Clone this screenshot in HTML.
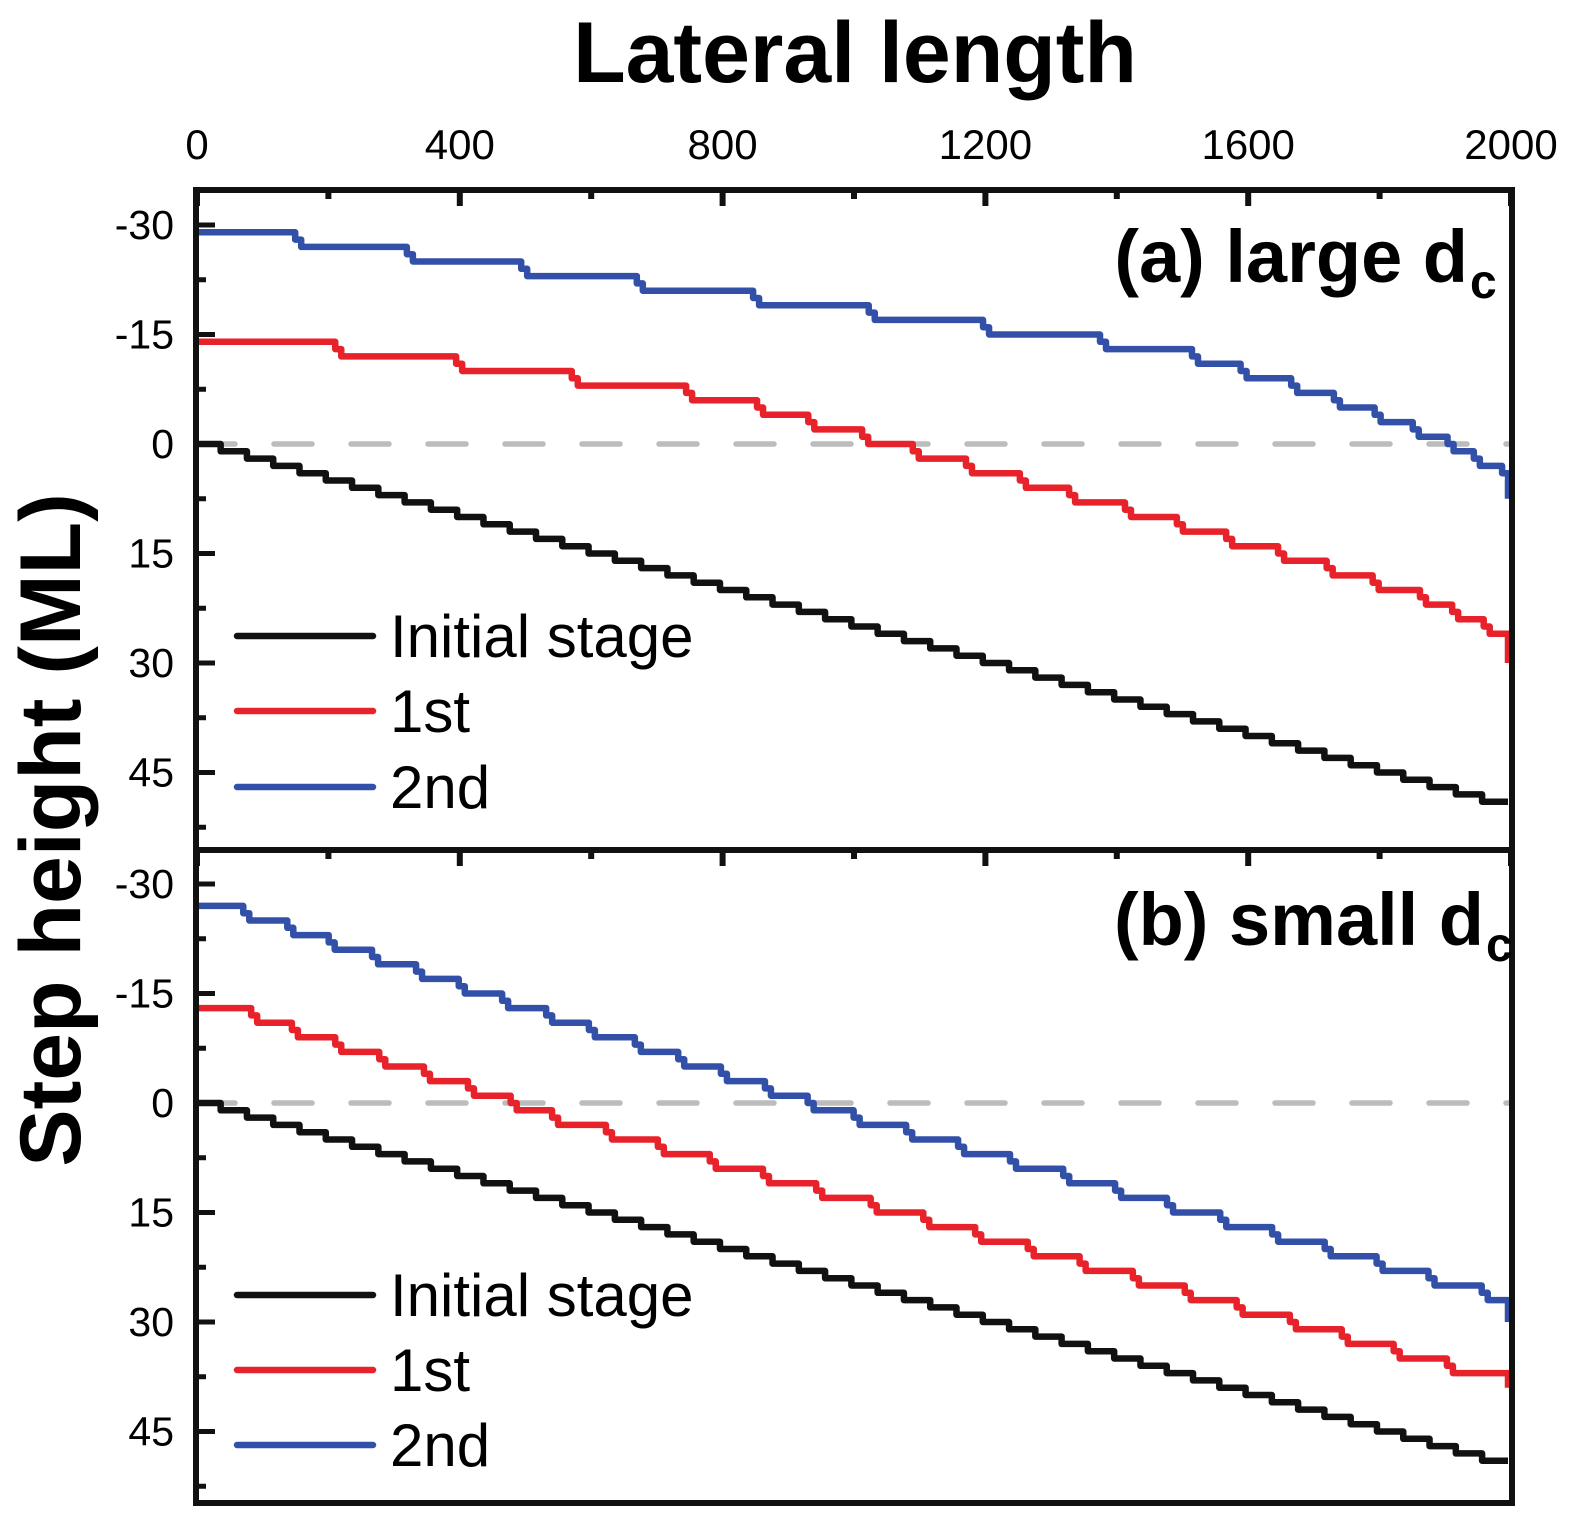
<!DOCTYPE html>
<html><head><meta charset="utf-8"><style>
body{margin:0;background:#fff;}
svg{display:block;font-family:"Liberation Sans",Arial,sans-serif;}
</style></head><body>
<svg id="chart" width="1575" height="1522" viewBox="0 0 1575 1522"></svg>
<script>
// ---- data (x in lateral length units, y in ML) ----
const xTicks = [0, 400, 800, 1200, 1600, 2000];
const yTicks = [-30, -15, 0, 15, 30, 45];
const seriesNames = ["Initial stage", "1st", "2nd"];
// panel (a) large dc
const aInitStart = 0;
const aInitSteps = [36,76,116,156,196,236,276,316,356,396,436,476,516,556,596,636,676,716,756,796,836,876,916,956,996,1036,1076,1116,1156,1196,1236,1276,1316,1356,1396,1436,1476,1516,1556,1596,1636,1676,1716,1756,1796,1836,1876,1916,1956];
const aInitEnd = 49;
const a1stStart = -14;
const a1stSteps = [215,399,575,749,857,935,1017,1094,1175,1257,1332,1417,1496,1571,1650,1724,1794,1866,1915,1963];
const a1stEnd = 30;
const a2ndStart = -29;
const a2ndSteps = [154,324,498,674,851,1027,1201,1379,1519,1593,1670,1735,1797,1855,1908,1948,1991];
const a2ndEnd = 7.5;
// panel (b) small dc
const bInitStart = 0;
const bInitSteps = [36,76,116,156,196,236,276,316,356,396,436,476,516,556,596,636,676,716,756,796,836,876,916,956,996,1036,1076,1116,1156,1196,1236,1276,1316,1356,1396,1436,1476,1516,1556,1596,1636,1676,1716,1756,1796,1836,1876,1916,1956];
const bInitEnd = 49;
const b1stStart = -13;
const b1stSteps = [87,149,215,282,350,417,482,545,627,706,785,866,947,1030,1110,1189,1269,1348,1429,1508,1587,1668,1747,1826,1907];
const b1stEnd = 39;
const b2ndStart = -27;
const b2ndSteps = [75,142,205,271,338,403,469,536,601,671,737,802,869,934,1004,1084,1163,1242,1323,1402,1481,1562,1641,1721,1800,1879,1960];
const b2ndEnd = 30;

const NS = "http://www.w3.org/2000/svg";
const svg = document.getElementById("chart");
function mk(tag, attrs, parent) {
  const e = document.createElementNS(NS, tag);
  for (const k in attrs) e.setAttribute(k, attrs[k]);
  (parent || svg).appendChild(e);
  return e;
}
const X0 = 197, X1 = 1511;
function xs(v) { return X0 + (X1 - X0) * v / 2000; }
const panels = [
  {top: 190, bot: 850, zero: 444, name: "a", label: "(a) large d", lx: 1468, ly: 282,
   series: [[aInitStart, aInitSteps, 1, aInitEnd, "#111111"], [a1stStart, a1stSteps, 2, a1stEnd, "#e8222a"], [a2ndStart, a2ndSteps, 2, a2ndEnd, "#3350a8"]],
   legY: [636, 711, 787]},
  {top: 850, bot: 1503, zero: 1103, name: "b", label: "(b) small d", lx: 1484, ly: 945,
   series: [[bInitStart, bInitSteps, 1, bInitEnd, "#111111"], [b1stStart, b1stSteps, 2, b1stEnd, "#e8222a"], [b2ndStart, b2ndSteps, 2, b2ndEnd, "#3350a8"]],
   legY: [1295, 1370, 1445]}
];
const S = 7.3;
const seriesKeys = ["initial-stage", "1st", "2nd"];

// title
let t = mk("text", {x: 855, y: 82, "text-anchor": "middle", "font-size": 86, "font-weight": "bold"});
t.textContent = "Lateral length";


t = mk("text", {x: 0, y: 0, "text-anchor": "middle", "font-size": 86, "font-weight": "bold", transform: "translate(80,830) rotate(-90)"});
t.textContent = "Step height (ML)";



// x tick labels
xTicks.forEach(v => {
  const e = mk("text", {x: xs(v), y: 159, "text-anchor": "middle", "font-size": 42});
  e.textContent = v;
  
  
});

panels.forEach(p => {
  const g = mk("g", {});
  
  
  const ys = v => p.zero + v * S;
  const z = mk("line", {x1: X0, x2: X1, y1: ys(0), y2: ys(0), stroke: "#bcbcbc", "stroke-width": 5.5, "stroke-dasharray": "38 39", "stroke-linecap": "round"}, g);
  
  
  p.series.forEach((s, i) => {
    const [start, steps, dh, end, col] = s;
    let v = start;
    let d = "M" + xs(0) + "," + ys(v);
    steps.forEach(sx => {
      const px = xs(sx);
      if (dh === 2) {
        d += " H" + (px - 3) + " V" + ys(v + 1) + " H" + (px + 3) + " V" + ys(v + 2);
      } else {
        d += " H" + px + " V" + ys(v + 1);
      }
      v += dh;
    });
    d += " H" + (xs(2000) - 3) + " V" + ys(end);
    const path = mk("path", {d: d, fill: "none", stroke: col, "stroke-width": 6.5, "stroke-linejoin": "round"}, g);
    
    
  });
  const fr = mk("rect", {x: X0 - 1, y: p.top, width: X1 - X0 + 2, height: p.bot - p.top, fill: "none", stroke: "#111", "stroke-width": 6}, g);
  
  
  for (let v = 0; v <= 2000; v += 200) {
    const major = v % 400 === 0;
    const tk = mk("line", {x1: xs(v), x2: xs(v), y1: p.top, y2: p.top + (major ? 16 : 9), stroke: "#111", "stroke-width": 6}, g);
    
    
  }
  for (let v = -30; v <= 52.5; v += 7.5) {
    const major = yTicks.indexOf(v) >= 0;
    const tk = mk("line", {x1: X0, x2: X0 + (major ? 18 : 9), y1: ys(v), y2: ys(v), stroke: "#111", "stroke-width": 5}, g);
    
    
  }
  yTicks.forEach(v => {
    const e = mk("text", {x: 174, y: ys(v) + 14, "text-anchor": "end", "font-size": 41}, g);
    e.textContent = v;
    
    
  });
  const lab = mk("text", {x: p.lx, y: p.ly, "text-anchor": "end", "font-size": 74, "font-weight": "bold"}, g);
  lab.textContent = p.label;
  
  
  const sub = mk("text", {x: p.lx + 2, y: p.ly + 16, "font-size": 48, "font-weight": "bold"}, g);
  sub.textContent = "c";
  
  
  p.legY.forEach((ly, i) => {
    const lg = mk("g", {}, g);
    
    
    mk("line", {x1: 237, x2: 373, y1: ly, y2: ly, stroke: p.series[i][4], "stroke-width": 6.5, "stroke-linecap": "round"}, lg);
    const lt = mk("text", {x: 390, y: ly + 21, "font-size": 60}, lg);
    lt.textContent = seriesNames[i];
  });
});
</script>
</body></html>
